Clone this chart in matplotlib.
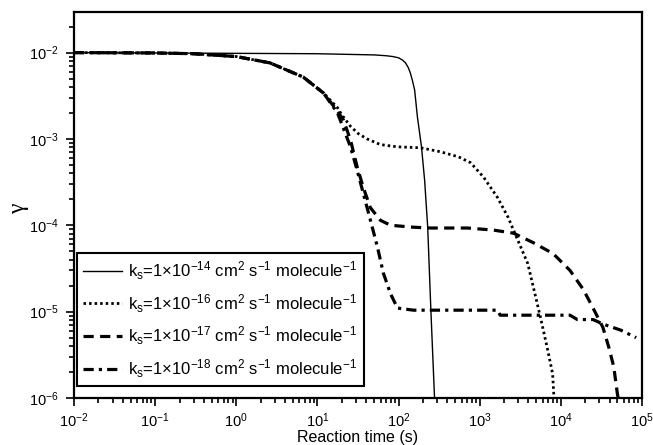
import numpy as np
import matplotlib
matplotlib.use('Agg')
import matplotlib.pyplot as plt
from matplotlib.ticker import LogLocator, NullFormatter

plt.rcParams['font.family'] = ['Liberation Sans', 'DejaVu Sans']
plt.rcParams['mathtext.fontset'] = 'custom'
plt.rcParams['mathtext.rm'] = 'Liberation Sans'
plt.rcParams['mathtext.it'] = 'Liberation Sans'
plt.rcParams['mathtext.default'] = 'regular'

# uptake coefficient vs reaction time for four surface rate constants
t_14 = [0.01, 0.1, 1, 10, 50, 70, 85, 100, 112, 122, 132, 140, 148, 158, 171, 192,
        210, 229, 250, 278]
g_14 = [0.01, 0.0099, 0.0098, 0.0097, 0.0094, 0.0092, 0.0090, 0.0087, 0.0082,
        0.0076, 0.0067, 0.0058, 0.0048, 0.0037, 0.0018, 8.1e-4, 3.3e-4, 9.5e-5,
        1.1e-5, 1e-6]

# the three slower cases share the same early decay
t_early = [0.01, 0.1, 0.3, 1, 2.6, 6.7, 11.9]
g_early = [0.01, 0.0099, 0.0097, 0.0090, 0.0076, 0.0052, 0.0034]

t_16 = t_early + [17.7, 20, 25.6, 32, 41, 60, 97, 187, 330, 550, 775, 1120, 1660,
                  2240, 2960, 3920, 4670, 5620, 6900, 7940, 8200, 8470]
g_16 = g_early + [2.3e-3, 1.9e-3, 1.4e-3, 1.15e-3, 1.0e-3, 8.6e-4, 8.1e-4, 7.9e-4,
                  7.1e-4, 6.2e-4, 5.3e-4, 3.6e-4, 2.1e-4, 1.24e-4, 6.7e-5, 3.6e-5,
                  1.8e-5, 8.6e-6, 3.6e-6, 1.9e-6, 1.1e-6, 1e-6]

t_17 = t_early + [17.7, 21, 25.6, 31, 37, 45, 60, 80, 153, 248, 710, 1480, 2620,
                  4570, 8050, 1.3e4, 1.9e4, 2.5e4, 3.3e4, 3.9e4, 4.5e4, 5.0e4, 5.1e4]
g_17 = g_early + [2.1e-3, 1.65e-3, 9.7e-4, 4.7e-4, 2.7e-4, 1.6e-4, 1.14e-4, 1.0e-4,
                  9.5e-5, 9.3e-5, 9.3e-5, 8.8e-5, 8.1e-5, 6.3e-5, 4.7e-5, 3.0e-5,
                  1.8e-5, 1.1e-5, 6.6e-6, 3.9e-6, 2.3e-6, 1.1e-6, 1e-6]

t_18 = t_early + [17.7, 25.6, 31, 37, 45, 55, 65, 80, 97, 153, 1660, 1790, 1.3e4,
                  1.6e4, 2.5e4, 3.3e4, 5.5e4, 8.5e4]
g_18 = g_early + [2.0e-3, 8.1e-4, 4.3e-4, 2.3e-4, 1.15e-4, 5.6e-5, 2.8e-5, 1.6e-5,
                  1.1e-5, 1.04e-5, 1.04e-5, 9.1e-6, 9.1e-6, 8.1e-6, 8.1e-6, 7.2e-6,
                  6.1e-6, 5.0e-6]

labels = [r'k$_s$=1×10$^{-14}$ cm$^2$ s$^{-1}$ molecule$^{-1}$',
          r'k$_s$=1×10$^{-16}$ cm$^2$ s$^{-1}$ molecule$^{-1}$',
          r'k$_s$=1×10$^{-17}$ cm$^2$ s$^{-1}$ molecule$^{-1}$',
          r'k$_s$=1×10$^{-18}$ cm$^2$ s$^{-1}$ molecule$^{-1}$']

fig = plt.figure(figsize=(6.53, 4.45), dpi=100)
ax = fig.add_axes([0.1133, 0.1056, 0.8697, 0.8674])

ax.plot(t_14, g_14, color='k', lw=1.0, label=labels[0])
ax.plot(t_16, g_16, color='k', lw=2.0, dashes=(0.9, 1.1), label=labels[1])
ax.plot(t_17, g_17, color='k', lw=2.3, dashes=(3.2, 2.0), label=labels[2])
ax.plot(t_18, g_18, color='k', lw=2.3, dashes=(3.2, 1.6, 1.0, 1.6), label=labels[3])

ax.set_xscale('log')
ax.set_yscale('log')
ax.set_xlim(1e-2, 1e5)
ax.set_ylim(1e-6, 2.95e-2)

ax.xaxis.set_major_locator(LogLocator(base=10, numticks=20))
ax.xaxis.set_minor_locator(LogLocator(base=10, subs=np.arange(2, 10), numticks=20))
ax.yaxis.set_major_locator(LogLocator(base=10, numticks=20))
ax.yaxis.set_minor_locator(LogLocator(base=10, subs=np.arange(2, 10), numticks=20))
ax.xaxis.set_minor_formatter(NullFormatter())
ax.yaxis.set_minor_formatter(NullFormatter())

ax.tick_params(which='both', direction='out', top=False, right=False,
               labelsize=10.5, width=1.2)
ax.tick_params(which='major', length=6)
ax.tick_params(which='minor', length=3.5)
ax.tick_params(axis='x', which='major', pad=4)
ax.tick_params(axis='y', which='major', pad=5)
for s in ax.spines.values():
    s.set_linewidth(1.6)

ax.set_xlabel('Reaction time (s)', fontsize=11.5, labelpad=0)
ax.set_ylabel('γ', fontsize=17, family=['Liberation Serif', 'DejaVu Serif'])
ax.yaxis.set_label_coords(-0.08, 0.49)

leg = ax.legend(loc='lower left', bbox_to_anchor=(0.005, 0.03), borderaxespad=0,
                fontsize=12, handlelength=2.3, handletextpad=0.4,
                labelspacing=0.6, fancybox=False, framealpha=1,
                edgecolor='k', borderpad=0.4)
leg.get_frame().set_linewidth(1.5)

fig.savefig('out.png', dpi=100)
